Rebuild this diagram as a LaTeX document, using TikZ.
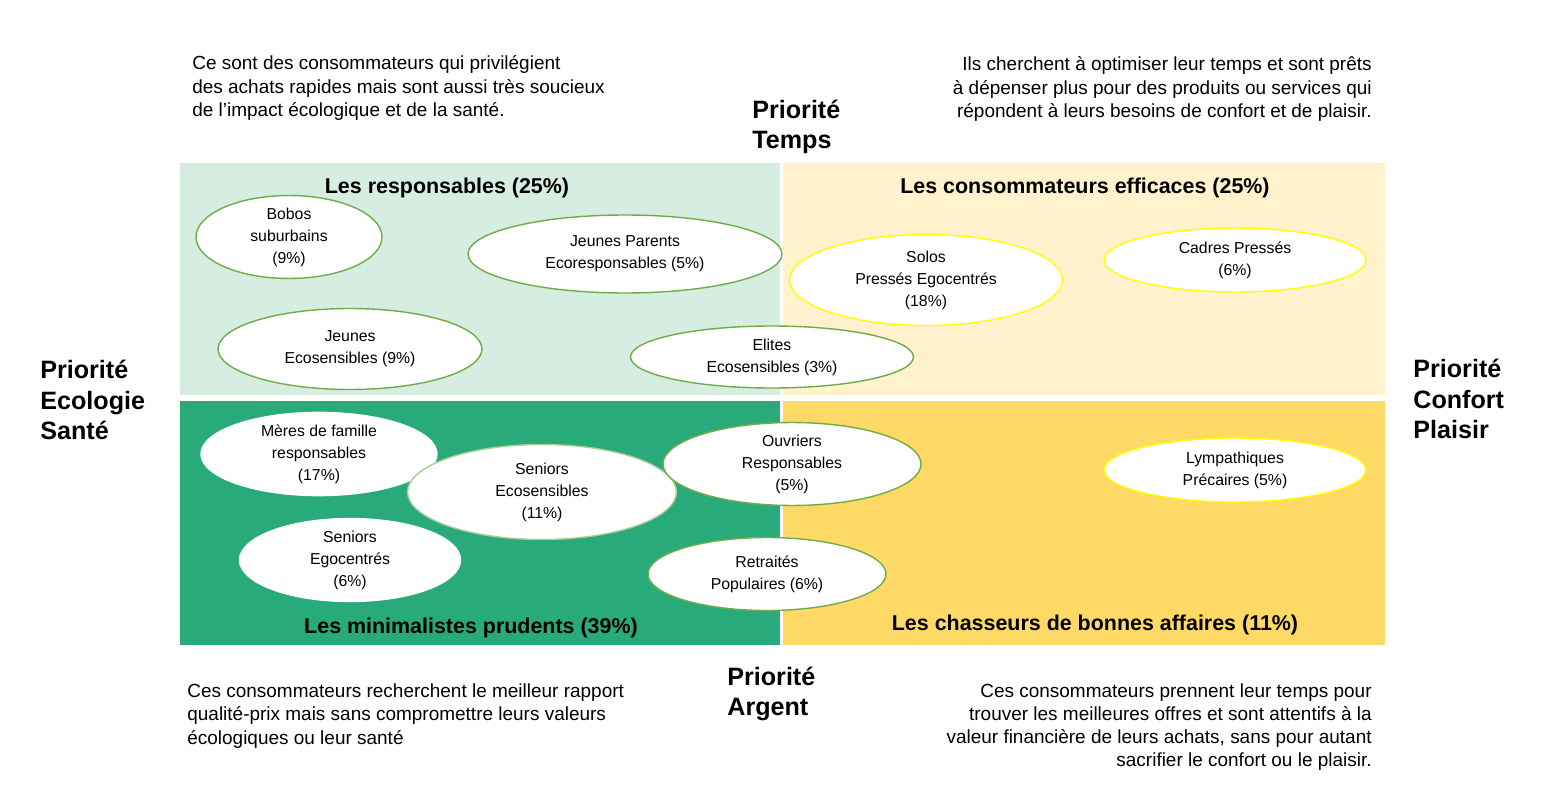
\documentclass[tikz,border=0pt]{standalone}
\usepackage{fontspec}
\setmainfont{Liberation Sans}
\usetikzlibrary{shapes.geometric}
\definecolor{vertclair}{RGB}{214,237,226}
\definecolor{creme}{RGB}{255,242,204}
\definecolor{vertfonce}{RGB}{40,170,123}
\definecolor{ocre}{RGB}{255,217,102}
\definecolor{vertbord}{RGB}{112,173,71}
\definecolor{jaunebord}{RGB}{255,255,0}
\tikzset{
  segment/.style={ellipse,draw=#1,line width=0.8pt,fill=white,inner sep=0pt,
    align=center,font=\fontsize{9}{12.5}\selectfont},
  quadrant title/.style={font=\bfseries\fontsize{12.2}{14}\selectfont},
  axis title/.style={font=\bfseries\fontsize{14.3}{17.2}\selectfont,inner sep=0pt},
  description/.style={font=\fontsize{10.8}{13.2}\selectfont,inner sep=0pt}
}
\begin{document}
\begin{tikzpicture}[x=0.02cm,y=-0.02cm]
		\useasboundingbox (0,0) rectangle (1550,810);
		% quadrants
		\fill[vertclair] (180,163) rectangle (780,395);
		\fill[creme] (783,163) rectangle (1385,395);
		\fill[vertfonce] (180,401) rectangle (780,645);
		\fill[ocre] (783,401) rectangle (1385,645);
		\node(tl) [quadrant title] at (447,188) {Les responsables (25\%)};
		\node(tr) [quadrant title] at (1085,188) {Les consommateurs efficaces (25\%)};
		\node(bl) [quadrant title] at (471,628) {Les minimalistes prudents (39\%)};
		\node(br) [quadrant title] at (1095,625) {Les chasseurs de bonnes affaires (11\%)};
		% segments
		\node(bobos) [segment=vertbord,minimum width=3.72cm,minimum height=1.5cm] at (289,237) {Bobos\\suburbains\\(9\%)};
		\node(parents) [segment=vertbord,minimum width=6.28cm,minimum height=1.56cm] at (625,254) {Jeunes Parents\\Ecoresponsables (5\%)};
		\node(jeunes) [segment=vertbord,minimum width=5.28cm,minimum height=1.62cm] at (350,349) {Jeunes\\Ecosensibles (9\%)};
		\node(elites) [segment=vertbord,minimum width=5.66cm,minimum height=1.24cm] at (772,357) {Elites\\Ecosensibles (3\%)};
		\node(solos) [segment=jaunebord,minimum width=5.46cm,minimum height=1.82cm] at (926,280) {Solos\\Pressés Egocentrés\\(18\%)};
		\node(cadres) [segment=jaunebord,minimum width=5.24cm,minimum height=1.28cm] at (1235,260) {Cadres Pressés\\(6\%)};
		\node(meres) [segment=white,minimum width=4.72cm,minimum height=1.64cm] at (319,454) {Mères de famille\\responsables\\(17\%)};
		\node(seniorseco) [segment=vertbord!60,minimum width=5.38cm,minimum height=1.9cm] at (542,492) {Seniors\\Ecosensibles\\(11\%)};
		\node(seniorsego) [segment=white,minimum width=4.42cm,minimum height=1.62cm] at (350,560) {Seniors\\Egocentrés\\(6\%)};
		\node(ouvriers) [segment=vertbord,minimum width=5.16cm,minimum height=1.48cm] at (792,464) {Ouvriers\\Responsables\\(5\%)};
		\node(retraites) [segment=vertbord,minimum width=4.76cm,minimum height=1.46cm] at (767,574) {Retraités\\Populaires (6\%)};
		\node(lymp) [segment=jaunebord,minimum width=5.24cm,minimum height=1.28cm] at (1235,470) {Lympathiques\\Précaires (5\%)};
		% axes
		\node(temps) [axis title,anchor=west,align=left] at (752,127) {Priorité\\Temps};
		\node(argent) [axis title,anchor=west,align=left] at (727,694) {Priorité\\Argent};
		\node(ecologie) [axis title,anchor=west,align=left] at (40,400) {Priorité\\Ecologie\\Santé};
		\node(confort) [axis title,anchor=west,align=left] at (1413,399) {Priorité\\Confort\\Plaisir};
		% descriptions
		\node(dtl) [description,anchor=west,align=left] at (192,88)
			{Ce sont des consommateurs qui privilégient\\des achats rapides mais sont aussi très soucieux\\de l'impact écologique et de la santé.};
		\node(dtr) [description,anchor=east,align=right] at (1372,89)
			{Ils cherchent à optimiser leur temps et sont prêts\\à dépenser plus pour des produits ou services qui\\répondent à leurs besoins de confort et de plaisir.};
		\node(dbl) [description,anchor=west,align=left] at (187,716)
			{Ces consommateurs recherchent le meilleur rapport\\qualité-prix mais sans compromettre leurs valeurs\\écologiques ou leur santé};
		\node(dbr) [description,anchor=east,align=right] at (1372,727)
			{Ces consommateurs prennent leur temps pour\\trouver les meilleures offres et sont attentifs à la\\valeur financière de leurs achats, sans pour autant\\sacrifier le confort ou le plaisir.};
	\end{tikzpicture}
\end{document}
